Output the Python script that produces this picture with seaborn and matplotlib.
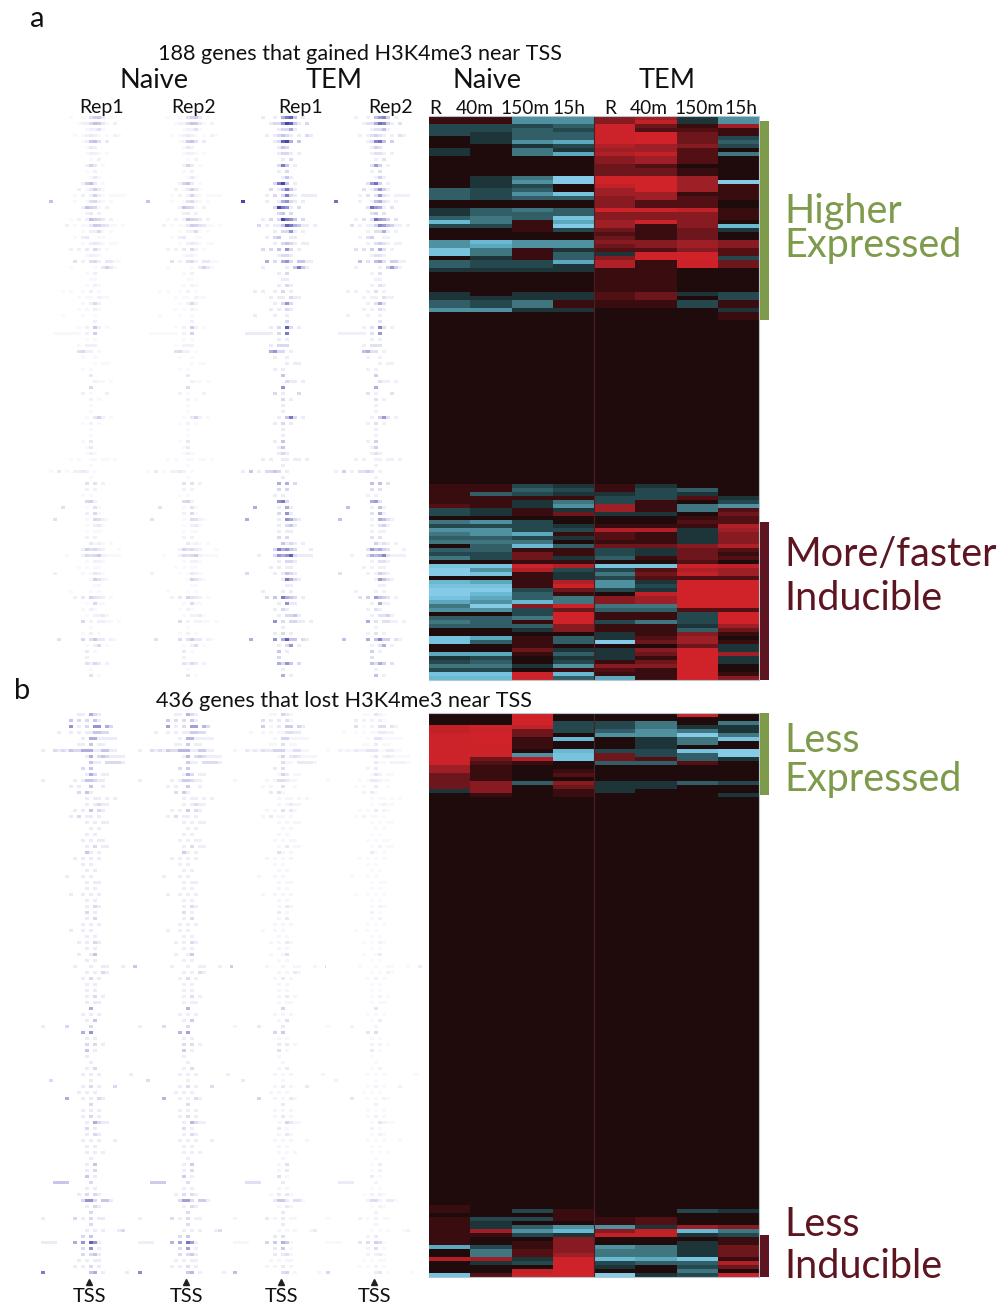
"""
Two panel figure: H3K4me3 signal around the TSS next to expression heatmaps.
"""

import numpy as np
import seaborn as sns
import matplotlib.pyplot as plt
from matplotlib.colors import LinearSegmentedColormap
from matplotlib.patches import Rectangle

# -------------------------------------------------- DATA -------------------------------------------------- #

# Expression per band, columns are Naive R/40m/150m/15h then TEM R/40m/150m/15h
expr_a_top = [
    [1, 1, -5, -5, 4, 5, -1, -5], [1, 1, -5, -5, 4, 7, -1, -5], [-2, -2, -2, -3, 8, 3, 1, 5],
    [-2, -2, -3, -2, 8, 2, 2, 1], [-2, -1, -3, -3, 8, 9, 3, 1], [0, -1, -3, -3, 8, 9, 3, -2],
    [0, -1, -5, -6, 8, 9, 3, -3], [0, 0, -1, -2, 6, 5, 4, -2], [-1, 0, -4, -1, 5, 5, 2, 0],
    [-1, 0, -4, -6, 6, 7, 2, -4], [0, 0, 0, 0, 4, 5, 2, 0], [0, 0, 0, 0, 4, 5, 2, 0],
    [0, 0, 0, 0, 3, 2, 0, 0], [0, 0, 0, 0, 3, 3, 1, 0], [0, 0, 0, 0, 3, 3, 1, 0],
    [0, -1, -4, -9, 9, 9, 5, 0], [0, -1, -5, -9, 9, 9, 5, -9], [0, -1, -2, 0, 7, 9, 5, 1],
    [-3, -2, -3, 0, 5, 9, 5, 1], [-3, -2, -5, -8, 5, 5, 1, 1], [-3, -2, -3, -3, 4, 5, 2, 1],
    [0, 0, 0, 0, 4, 2, 2, 0], [0, 0, 0, 0, 4, 2, 2, 0], [-1, -3, -4, -3, 9, 8, 7, 1],
    [-1, -3, -3, -3, 4, 4, 4, 1], [-3, -4, -3, -8, 4, 4, 4, 1], [-7, -4, 1, -6, 5, 8, 4, 0],
    [-2, -2, 1, -9, 5, 1, 4, -7], [0, 0, 1, -2, 3, 1, 3, -1], [0, 0, 0, 0, 2, 1, 3, 0],
    [0, 0, 0, 0, 3, 1, 3, 0], [-5, -7, -5, -5, 4, 4, 5, 4], [-5, -6, -5, -5, 3, 4, 5, 4],
    [-8, -4, 1, -1, 2, 2, 4, 2], [-8, -4, 1, -3, -1, 9, 9, 2], [0, -1, 1, -3, 4, 9, 9, -2],
    [-3, -2, -2, -6, 6, 1, 8, 3], [-3, -2, -2, -1, 6, 1, 8, 3], [-1, -1, -1, -1, 1, 1, 0, 0],
    [0, 0, 0, 0, 1, 1, 0, 0], [0, 0, 0, 0, 1, 1, 0, 0], [0, 0, 0, 0, 1, 1, 0, 0],
    [0, 0, 0, 0, 1, 1, 0, 0], [0, 0, 0, 0, 1, 1, 0, 0], [-1, 0, -1, -1, 2, 3, -1, -2],
    [-1, -1, -1, -1, 2, 3, 0, -2], [-3, -2, -4, 1, 1, 1, -2, 1], [-3, -2, -4, 1, 1, 1, -2, 1],
    [-5, -5, -1, -1, 0, 0, 0, -1], [0, 0, 0, 0, 0, 0, 0, 1], [0, 0, 0, 0, 0, 0, 0, 1],
]
expr_a_bottom = [
    [1, 1, -2, -1, 1, -1, 0, 0], [1, 1, -3, -2, 1, -2, -3, 0], [1, -3, -2, -1, -1, -2, -1, 0],
    [1, 1, 1, 1, -2, -2, 2, -1], [1, 1, -1, -4, -2, 1, 0, -2], [2, 1, -1, -5, 5, 1, -4, -5],
    [-2, -1, 1, -1, 5, 1, -4, 2], [-2, -1, 1, 3, -1, -1, 0, 3], [0, 0, 0, 0, 0, 0, 1, 2],
    [-4, -5, -2, 0, 0, 0, 2, 2], [-2, -2, -2, -1, 1, 1, 1, 6], [-5, -5, -2, -2, 6, 6, -1, 5],
    [-4, -5, -6, 1, 2, 1, -1, 4], [-3, -3, -2, -1, 2, 1, -1, 4], [-4, -4, -4, 0, 1, 1, -1, 4],
    [0, -3, -7, -3, 3, 3, 4, 6], [-3, -3, 1, 1, -2, -1, 3, 2], [-2, -2, 3, 1, -2, -1, 3, 1],
    [-4, -2, 3, -1, -3, 1, 3, 2], [0, 0, 1, 1, 0, 0, 2, 0], [-8, -8, 8, 6, -8, -8, 8, 7],
    [-9, -5, 6, -2, -2, 2, 6, 5], [-9, -8, 1, -1, -4, 3, 7, 5], [0, 0, 1, -1, -2, 2, 2, 2],
    [-7, -6, 1, 6, -5, -1, 9, 9], [-8, -8, 1, 8, -5, -2, 9, 9], [-9, -9, -2, 3, -2, -1, 9, 9],
    [-9, -7, -3, 1, 0, 7, 9, 9], [-8, -6, -3, -4, 4, 5, 9, 9], [-6, -5, -7, -4, 4, 5, 9, 9],
    [-4, -9, 4, 8, -4, -4, 9, 9], [-5, -5, -2, 3, -3, -3, 2, 2], [0, 0, -2, 9, 1, 1, -2, 9],
    [-3, -3, -4, 9, 1, 1, -2, 9], [-4, -3, 1, 9, -2, -4, -2, 9], [-3, -3, -3, 4, 1, 1, -1, 5],
    [0, 0, -1, 4, 1, 1, -3, 3], [0, 0, 0, 0, -1, 1, 4, 1], [-8, -6, 1, -3, -1, 2, 5, 0],
    [-8, -3, 1, -3, -9, 3, 5, 1], [0, 0, 1, 0, 0, 0, 3, -1], [0, 0, 3, -1, -1, 4, 9, -1],
    [-6, -6, 1, -3, -1, 3, 9, 5], [-1, -2, 0, -1, -1, 1, 9, -1], [-2, -3, 0, -2, 1, 3, 9, -1],
    [-4, -4, -1, -5, 4, 4, 9, 0], [-2, -2, 0, 1, 2, 1, 9, 0], [-8, -8, 8, -7, 1, 1, 9, 1],
    [-7, -7, 8, -3, -6, 1, 9, 4],
]
expr_b_top = [
    [0, 0, 9, 0, 0, 0, 8, 0], [0, 0, 9, 0, 0, 0, 0, 0], [0, 0, 9, -2, -2, -4, 0, -4],
    [7, 8, 7, -2, -2, -4, -1, -1], [7, 8, 3, -2, -3, -5, -4, -1], [8, 9, 3, 0, -5, -5, -9, -4],
    [8, 9, 1, -7, 0, -1, -4, -8], [8, 9, 1, 0, 0, -1, -4, 0], [9, 8, 1, 0, 0, -1, 0, 0],
    [8, 8, 0, -7, -2, -2, -8, -9], [8, 8, -5, -8, 3, -2, -3, -9], [8, 3, 6, -8, 3, 2, -3, -1],
    [8, 2, 1, 0, -3, -3, 2, 0], [5, 1, 0, 0, 0, 0, 0, 0], [5, 1, 0, 1, 0, 0, 0, 0],
    [3, 1, 0, 2, 0, 0, 0, 0], [3, 1, 0, 0, 0, 0, 0, 0], [3, 4, -3, 4, -1, -1, -3, -2],
    [3, 4, 0, 3, -1, -1, 0, 0], [-1, 4, 0, 1, -1, 0, 0, 0], [0, 1, 0, 1, 0, 0, 0, -1],
]
expr_b_bottom = [
    [1, 0, 0, 0, 0, 0, 0, 0], [1, 0, -2, 1, 0, 0, -2, -1], [0, 0, 0, 1, 0, 0, 0, 0],
    [1, -2, -2, 1, 1, 2, 0, 0], [1, -1, 0, 0, 1, 2, 0, 0], [1, -1, -3, -5, -5, -1, 5, 4],
    [1, 5, -5, -7, 4, 7, -7, -4], [1, 1, -2, -1, 7, 7, -1, -2], [1, 0, 0, 4, 0, 0, 0, 1],
    [1, 0, 1, 4, 0, 0, -1, 1], [-6, -2, 1, 4, -5, -4, -1, 3], [0, -4, 2, 4, -4, -4, -1, 3],
    [0, -4, 2, 5, -4, -4, -1, 3], [6, 5, -1, 8, -7, -6, -8, 1], [0, -1, -2, 9, -2, -3, -3, 6],
    [0, 0, 0, 9, -1, 0, -2, 3], [0, 0, 7, 9, 0, 0, -4, 0], [-8, 2, 8, 9, -9, -1, -2, 8],
]
# unchanged genes between the two expressed blocks
quiet_rows_a = 41
quiet_rows_b = 102

# H3K4me3 signal, one string per band, the 13th character sits on the TSS
signal_a = [
    ".......1..1.4673.1......", ".........12258731.2.....", "...........12241........",
    "........1.12321.1.21....", "..........12784.3.......", "...........132..........",
    "...........1221.1.......", "............1.2.........", "...........263.1........",
    "...........1.2..........", "............131.........", "..........2683.1........",
    ".........2.13631........", "........1.2.2621.1111...", "..8.....1..14521.1......",
    "..........28651.2.......", "...........23.2.........", ".......1.2.28653.2......",
    "......2.1.113764311.1...", "..........1.2251.1......", "........1.23..11........",
    "..........1.2321.11.....", ".......2.2.3.52.1.......", "...........1221.........",
    "........4.2.452.3311....", ".......1.....1.3631.....", "...........1.2..........",
    "............11..........", "...........1.21.........", ".....1.1..1.2.1.........",
    ".........1.11.211.......", "..........1.252.........", ".........1.1.21.........",
    ".....1....1..1..........", ".............2..........", ".........1.2.72.1.......",
    "...1111111.2.6..........", "...........1.1..........", ".........1.222..........",
    ".........4522.1.........", "..........1..1..........", ".............1.11.......",
    "..........1.1...........", "............3...........", ".............211.1......",
    "............5...........", "..........2.1...2.......", "............2.1.........",
    "............1...........", "............1...........", "...........1.362.1......",
    "..........1.2.1.........", "............1...........", "............1...........",
    "..........1.3...........", "...........13...........", "...........121..........",
    ".......1.1..11.11.1.....", "............1...........", "..1.3.1.2232.1..........",
    "............1...........", "...........4.4.2........", "...........2.2..........",
    "..........1.1...........", "...........562..........", ".....4.....1.41.........",
    "...........2.51.........", "...4.......1.5421.......", "...........1.231........",
    "...........1.11.........", "...........2.2..........", "............3121.1......",
    "..........264532...1....", "......1...2545721111....", "...........1.221........",
    ".........1.1.11.........", "...2......1.1321........", "............16421.......",
    ".............11.........", ".......1....1.1.........", "........2.3.6432.1......",
    "...........1.511........", "..........1.21..........", "...........1.2231.......",
    "..........5.2.2211.1....", "............1...........", "..........1.2.1.........",
    "....4.....5.4733.21.....", "...........1.25.1.......", "...........3.1..........",
    "...........2............", "...........4253.2.......", "............1...........",
    "............4.1.........",
]
signal_b = [
    ".........11.421.........", ".......3.2.2.31.........", ".......5.1.2.55.42......",
    "....1..1.1.113322.......", "..........1.4411111.....", ".........11.3.11........",
    "1..2121322444113311.....", "...........14.2321111...", "............311.22221...",
    "..........2.3...........", "...........142.11.......", "1.......1.133211........",
    ".......1.1..3..1........", ".........2.31...........", "...........1.11.1.1.....",
    "...........1.1211.......", "........1.1.3.21........", ".......1.2.11.1.........",
    "...........1.1.11.......", "............1.1.........", "...........1.1..........",
    "..........1.1.11........", "...........1.2.11.......", "...........31.1.........",
    "........1.1.1.1.........", "..........1.1...........", "...........1.1..........",
    "......1...1.1...........", "...........1.11.........", "...........1.1..........",
    ".......1..1.1.1.........", "...........1.1..........", "...........1.21.........",
    "...........2.1..........", "...........1.2..........", "..........1.1.1.........",
    ".......1..1.1...........", "...........1.1..........", ".........1.1.21.........",
    "...........1.1..........", ".........1..13..........", "...........1.1..........",
    "........1...1..11...1..3", "...........1.1.21.......", "..........1.2.1.........",
    "...........1.1..........", "...........1.1..........", "...........1.2.1........",
    "...........1.11.........", "............4...........", "..........1.1.1.........",
    "...........1.3..........", "1.....2.....2...........", "..........4.5...........",
    "...........1.1..........", "...........2.2.1........", "...........3.1..........",
    "...........1............", "............1...........", "...........1.2..........",
    "..........1.1.1.......1.", "..2.........1...........", "..........1.2.1...2.....",
    ".........1.1.1..........", "......4...1.1.21........", "............2...........",
    "..........1.1.1.........", "..........1.2.1.........", "...........1.4211.......",
    "...........2.1..........", "...........1.21.........", "..........1.1.1...1.....",
    "...........1.1..........", "...........1.1.1........", "............1...........",
    "...........1.3..........", "...........1.2..........", "...........3.1..........",
    "...3333.....2...........", "...........1.1..........", ".........1.2.21.........",
    "..........2552.331......", "...........1.21.........", "............2...........",
    "1.......2.1.2.11........", "............2...........", "...........1.1.1...12...",
    "..........2.3...........", "1111....4.5.751.........", "..........2.5.1.........",
    "..........2.231.........", ".........1.1.11.........", "........1.1.2.1.........",
    "6...........34.1.....1..",
]
# how strong each replicate strip is compared to the band table
gain_a = [0.4, 0.38, 1.0, 0.8]
gain_b = [1.0, 0.9, 0.55, 0.35]

time_labels = ['R', '40m', '150m', '15h', 'R', '40m', '150m', '15h']
rep_labels = ['Rep1', 'Rep2', 'Rep1', 'Rep2']

# -------------------------------------------------- GLOBALS -------------------------------------------------- #

sns.set_theme(style="white")
plt.rcParams['font.family'] = ['Lato', 'DejaVu Sans']

W, H = 997, 1305
GREEN = '#7d9b4a'
MAROON = '#5d1621'

expr_cmap = LinearSegmentedColormap.from_list('expr', [
    (0.0, '#85cbe8'), (0.14, '#62b4cd'), (0.28, '#40757f'), (0.39, '#24474d'), (0.47, '#1a2c2e'),
    (0.5, '#1f0b0c'), (0.6, '#4d0f13'), (0.75, '#961e25'), (0.92, '#cb2229'), (1.0, '#cf2229'),
])
signal_cmap = LinearSegmentedColormap.from_list('signal', ['#ffffff', '#c6c6ea', '#7c7cc6', '#2d2d96'])


# -------------------------------------------------- FUNCTIONS -------------------------------------------------- #


def axes_px(fig, x0, y0, x1, y1):
    # axes from pixel corners, y counted from the top
    return fig.add_axes([x0 / W, 1 - y1 / H, (x1 - x0) / W, (y1 - y0) / H])


def signal_matrix(rows, thin):
    # every band only fills the first of its thin lines, gives the streaky look
    cells = np.array([[int(c) if c.isdigit() else 0 for c in r.ljust(24, '.')[:24]] for r in rows], dtype=float)
    matrix = np.zeros((len(rows) * thin, 24))
    matrix[::thin] = cells
    return matrix


def draw_signal(fig, rows, gains, thin, y0, y1):
    matrix = signal_matrix(rows, thin)
    for center, gain in zip([89, 186, 281, 374], gains):
        ax = axes_px(fig, center - 48, y0, center + 48, y1)
        sns.heatmap(matrix * gain, ax=ax, cmap=signal_cmap, vmin=0, vmax=9, cbar=False,
                    xticklabels=False, yticklabels=False)


def draw_expression(fig, rows, y0, y1):
    ax = axes_px(fig, 429, y0, 759, y1)
    sns.heatmap(np.array(rows), ax=ax, cmap=expr_cmap, vmin=-9, vmax=9, cbar=False,
                xticklabels=False, yticklabels=False)
    ax.axvline(4, color='#4a2024', lw=0.8)
    for side in ['top', 'right', 'bottom']:
        ax.spines[side].set_visible(True)
        ax.spines[side].set_color('#b8c6c9')
        ax.spines[side].set_linewidth(0.8)


# -------------------------------------------------- MAIN -------------------------------------------------- #

fig = plt.figure(figsize=(W / 100, H / 100), dpi=100)

draw_signal(fig, signal_a, gain_a, 2, 116, 680)
draw_signal(fig, signal_b, gain_b, 2, 713, 1277)
draw_expression(fig, expr_a_top + [[0] * 8] * quiet_rows_a + expr_a_bottom, 116, 680)
draw_expression(fig, expr_b_top + [[0] * 8] * quiet_rows_b + expr_b_bottom, 713, 1277)

# overlay in pixel coordinates for the labels and side bars
over = fig.add_axes([0, 0, 1, 1])
over.set_xlim(0, W)
over.set_ylim(H, 0)
over.axis('off')
over.patch.set_alpha(0)

for y0, y1, color in [(121, 320, GREEN), (522, 680, MAROON), (713, 795, GREEN), (1235, 1277, MAROON)]:
    over.add_patch(Rectangle((760, y0), 9, y1 - y0, color=color, lw=0))


def label(x, y, text, size, color='#111111', ha='center'):
    over.text(x, y, text, fontsize=size, color=color, ha=ha, va='center')


label(37, 19, 'a', 21)
label(22, 691, 'b', 21)
label(360, 54, '188 genes that gained H3K4me3 near TSS', 15.6)
label(344, 701, '436 genes that lost H3K4me3 near TSS', 15.6)

for x, text in zip([154, 334, 487, 667], ['Naive', 'TEM', 'Naive', 'TEM']):
    label(x, 81, text, 19.5)
for x, text in zip([102, 194, 301, 391], rep_labels):
    label(x, 108, text, 14)
for x, text in zip([435, 475, 525, 569, 610, 649, 699, 741], time_labels):
    label(x, 108, text, 13.8)

for x in [89, 186, 281, 374]:
    over.plot([x], [1282], marker='^', ms=4, color='#222222', ls='none')
    label(x, 1297, 'TSS', 14.5)

label(784, 211, 'Higher', 28.5, GREEN, 'left')
label(784, 246, 'Expressed', 28.5, GREEN, 'left')
label(784, 555, 'More/faster', 28.5, MAROON, 'left')
label(784, 598, 'Inducible', 28.5, MAROON, 'left')
label(784, 741, 'Less', 28.5, GREEN, 'left')
label(784, 780, 'Expressed', 28.5, GREEN, 'left')
label(784, 1224, 'Less', 28.5, MAROON, 'left')
label(784, 1266, 'Inducible', 28.5, MAROON, 'left')

plt.savefig('out.png', dpi=100)
